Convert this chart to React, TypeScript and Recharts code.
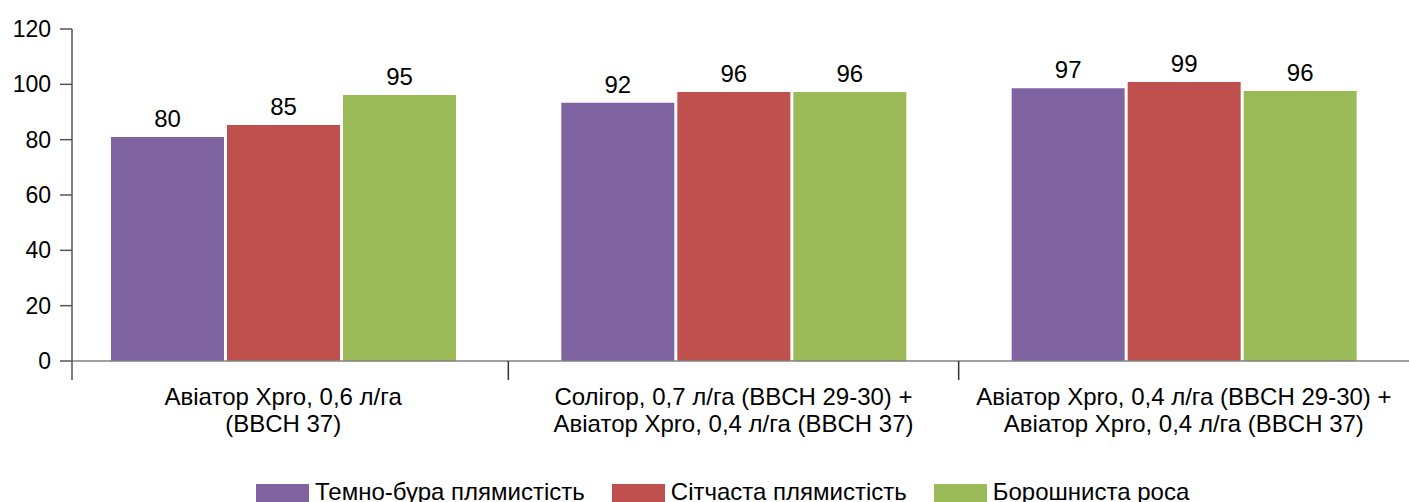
import { Bar, BarChart, LabelList, Legend, XAxis, YAxis } from "recharts";

// category labels (two lines each)
const categoryLines: [string, string][] = [
  ["Авіатор Xpro, 0,6 л/га", "(BBCH 37)"],
  ["Солігор, 0,7 л/га (BBCH 29-30) +", "Авіатор Xpro, 0,4 л/га (BBCH 37)"],
  ["Авіатор Xpro, 0,4 л/га (BBCH 29-30) +", "Авіатор Xpro, 0,4 л/га (BBCH 37)"],
];

const seriesNames = ["Темно-бура плямистість", "Сітчаста плямистість", "Борошниста роса"];
const seriesColors = ["#8064A2", "#C0504D", "#9BBB59"];

// bar heights as drawn
const darkBrownSpot = [81.0, 93.3, 98.6];
const netBlotch = [85.3, 97.2, 100.8];
const powderyMildew = [96.1, 97.2, 97.6];

// labels printed above the bars
const darkBrownSpotLabels = ["80", "92", "97"];
const netBlotchLabels = ["85", "96", "99"];
const powderyMildewLabels = ["95", "96", "96"];

const yTicks = [0, 20, 40, 60, 80, 100, 120];

const data = categoryLines.map((lines, i) => ({
  name: lines.join(" "),
  s1: darkBrownSpot[i],
  s2: netBlotch[i],
  s3: powderyMildew[i],
  l1: darkBrownSpotLabels[i],
  l2: netBlotchLabels[i],
  l3: powderyMildewLabels[i],
}));

const CHART_W = 1409;
const CHART_H = 502;
const Y_AXIS_W = 72;
const PAD_LEFT = -14;
const PAD_RIGHT = 0;
const FONT = "'Liberation Sans', Arial, sans-serif";
const band = (CHART_W - Y_AXIS_W - PAD_LEFT - PAD_RIGHT) / categoryLines.length;

const CategoryTick = (props: any) => {
  const { x, y, index } = props;
  const lines = categoryLines[index] || ["", ""];
  const tickX = index === 0 ? Y_AXIS_W : x - band / 2;
  return (
    <g>
      <line
        x1={tickX}
        x2={tickX}
        y1={y}
        y2={y + 19}
        stroke={index === 0 ? "#555555" : "#333333"}
        strokeWidth={1.5}
      />
      <text x={x} y={y} textAnchor="middle" fontSize={24} fill="#000" fontFamily={FONT}>
        <tspan x={x} dy={44}>{lines[0]}</tspan>
        <tspan x={x} dy={27}>{lines[1]}</tspan>
      </text>
    </g>
  );
};

const renderLegend = () => (
  <div
    style={{
      height: 22,
      display: "flex",
      alignItems: "flex-start",
      paddingLeft: 256,
      fontFamily: FONT,
      fontSize: 24,
      lineHeight: "24px",
      color: "#000",
    }}
  >
    {seriesNames.map((name, i) => (
      <div key={name} style={{ display: "flex", alignItems: "flex-start", marginRight: 27 }}>
        <span
          style={{
            display: "inline-block",
            width: 53,
            height: 20,
            marginTop: 4,
            marginRight: 6,
            background: seriesColors[i],
          }}
        />
        <span style={{ whiteSpace: "nowrap" }}>{name}</span>
      </div>
    ))}
  </div>
);

export default function App() {
  const labelStyle = { fill: "#000", fontSize: 24, fontFamily: FONT };
  return (
    <div style={{ position: "absolute", left: 0, top: 0, width: CHART_W, height: CHART_H, background: "#fff" }}>
      <BarChart
        width={CHART_W}
        height={CHART_H}
        data={data}
        margin={{ top: 29, right: 0, bottom: 0, left: 0 }}
        barSize={113}
        barGap={3}
      >
        <XAxis
          dataKey="name"
          height={119}
          padding={{ left: PAD_LEFT, right: PAD_RIGHT }}
          axisLine={{ stroke: "#808080", strokeWidth: 1.5 }}
          tickLine={false}
          tickSize={0}
          tickMargin={0}
          interval={0}
          tick={<CategoryTick />}
        />
        <YAxis
          width={Y_AXIS_W}
          domain={[0, 120]}
          ticks={yTicks}
          interval={0}
          axisLine={{ stroke: "#555555", strokeWidth: 1.5 }}
          tickLine={{ stroke: "#555555", strokeWidth: 1.5 }}
          tickSize={12}
          tickMargin={9}
          tick={{ fill: "#000", fontSize: 23, fontFamily: FONT }}
        />
        <Legend verticalAlign="bottom" content={renderLegend} />
        <Bar dataKey="s1" name={seriesNames[0]} fill={seriesColors[0]} isAnimationActive={false}>
          <LabelList dataKey="l1" position="top" offset={10} style={labelStyle} />
        </Bar>
        <Bar dataKey="s2" name={seriesNames[1]} fill={seriesColors[1]} isAnimationActive={false}>
          <LabelList dataKey="l2" position="top" offset={10} style={labelStyle} />
        </Bar>
        <Bar dataKey="s3" name={seriesNames[2]} fill={seriesColors[2]} isAnimationActive={false}>
          <LabelList dataKey="l3" position="top" offset={10} style={labelStyle} />
        </Bar>
      </BarChart>
    </div>
  );
}
